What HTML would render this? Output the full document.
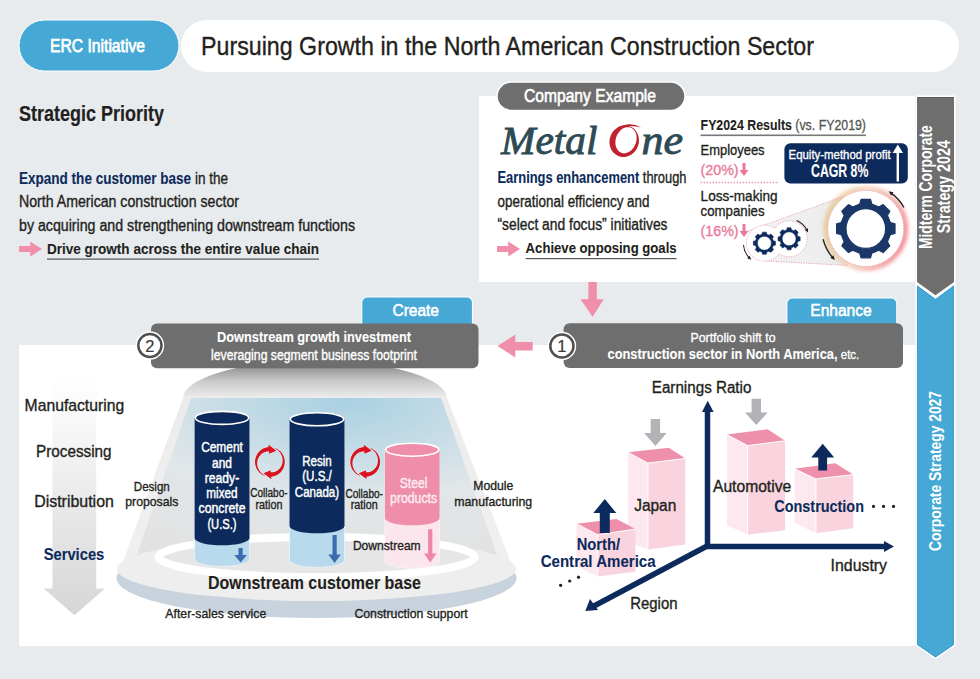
<!DOCTYPE html>
<html><head><meta charset="utf-8"><style>
html,body{margin:0;padding:0;background:#e8ebee;}
svg{display:block;font-family:"Liberation Sans", sans-serif;}
</style></head><body>
<svg width="980" height="679" viewBox="0 0 980 679">
<rect x="0" y="0" width="980" height="679" fill="#e8ebee"/>
<rect x="181" y="20" width="778" height="52" rx="26" fill="#fff"/>
<rect x="19" y="20" width="160" height="51" rx="25.5" fill="#45a8d5" stroke="#fff" stroke-width="1"/>
<text x="50" y="52" font-size="18.5" font-weight="normal" fill="#fff" text-anchor="start" textLength="95" lengthAdjust="spacingAndGlyphs" stroke="#fff" stroke-width="0.75">ERC Initiative</text>
<text x="201" y="54.6" font-size="25" font-weight="normal" fill="#231f20" text-anchor="start" textLength="613" lengthAdjust="spacingAndGlyphs" stroke="#231f20" stroke-width="0.35">Pursuing Growth in the North American Construction Sector</text>
<text x="19" y="121.3" font-size="22.3" font-weight="bold" fill="#231f20" text-anchor="start" textLength="145" lengthAdjust="spacingAndGlyphs" stroke="#231f20" stroke-width="0.2">Strategic Priority</text>
<text x="19" y="184.0" font-size="15.6" fill="#231f20" stroke="#231f20" stroke-width="0.35" textLength="209" lengthAdjust="spacingAndGlyphs"><tspan font-weight="bold" fill="#0c2a5b" stroke="#0c2a5b" stroke-width="0.1">Expand the customer base</tspan> in the</text>
<text x="19" y="207.2" font-size="15.6" font-weight="normal" fill="#231f20" text-anchor="start" textLength="220" lengthAdjust="spacingAndGlyphs" stroke="#231f20" stroke-width="0.35">North American construction sector</text>
<text x="19" y="230.6" font-size="15.6" font-weight="normal" fill="#231f20" text-anchor="start" textLength="336" lengthAdjust="spacingAndGlyphs" stroke="#231f20" stroke-width="0.35">by acquiring and strengthening downstream functions</text>
<path d="M19,245.9 L30.2,245.9 L30.2,241.4 L42,249 L30.2,256.6 L30.2,252.1 L19,252.1 Z" fill="#ef8fab"/>
<text x="47" y="253.6" font-size="15.3" font-weight="bold" fill="#231f20" text-anchor="start" textLength="272" lengthAdjust="spacingAndGlyphs" stroke="#231f20" stroke-width="0.1">Drive growth across the entire value chain</text>
<rect x="47" y="258.5" width="272" height="1.2" fill="#555"/>
<rect x="479" y="96" width="436" height="186" fill="#fff"/>
<rect x="497" y="82" width="188" height="28.5" rx="14.25" fill="#6e6e6e" stroke="#fff" stroke-width="1.5"/>
<text x="524" y="102.2" font-size="18" font-weight="normal" fill="#fff" text-anchor="start" textLength="132" lengthAdjust="spacingAndGlyphs" stroke="#fff" stroke-width="0.6">Company Example</text>
<text x="501" y="154" font-family="Liberation Serif" font-style="italic" font-size="41" fill="#2e4a54" stroke="#2e4a54" stroke-width="0.9" textLength="96.5" lengthAdjust="spacingAndGlyphs">Metal</text>
<text x="641.5" y="154" font-family="Liberation Serif" font-style="italic" font-size="41" fill="#2e4a54" stroke="#2e4a54" stroke-width="0.9" textLength="41.5" lengthAdjust="spacingAndGlyphs">ne</text>
<path d="M637.92,146.19 L637.09,148.10 L636.04,149.89 L634.79,151.53 L633.36,153.00 L631.77,154.26 L630.06,155.30 L628.24,156.09 L626.35,156.64 L624.43,156.91 L622.50,156.92 L620.60,156.67 L618.76,156.14 L617.02,155.36 L615.40,154.34 L613.93,153.09 L612.63,151.64 L611.53,150.01 L610.65,148.23 L610.01,146.33 L609.60,144.35 L609.44,142.30 L609.54,140.24 L609.89,138.20 L610.48,136.21 L611.31,134.30 L612.36,132.51 L613.61,130.87 L615.04,129.40 L616.63,128.14 L618.34,127.10 L620.16,126.31 L622.05,125.76 L623.97,125.49 L625.90,125.48 L627.80,125.73 L629.64,126.26 L631.38,127.04 L633.00,128.06 L634.47,129.31 L635.77,130.76 L636.87,132.39 L637.75,134.17 L638.39,136.07 L638.80,138.05 L638.96,140.10 L638.86,142.16 L638.51,144.20 Z M635.58,143.69 L636.10,142.02 L636.44,140.31 L636.61,138.60 L636.59,136.93 L636.39,135.30 L636.02,133.76 L635.47,132.33 L634.76,131.04 L633.90,129.90 L632.91,128.94 L631.79,128.17 L630.58,127.61 L629.29,127.26 L627.95,127.13 L626.57,127.23 L625.18,127.55 L623.80,128.09 L622.46,128.83 L621.19,129.77 L619.99,130.88 L618.90,132.16 L617.93,133.57 L617.10,135.10 L616.42,136.71 L615.90,138.38 L615.56,140.09 L615.39,141.80 L615.41,143.47 L615.61,145.10 L615.98,146.64 L616.53,148.07 L617.24,149.36 L618.10,150.50 L619.09,151.46 L620.21,152.23 L621.42,152.79 L622.71,153.14 L624.05,153.27 L625.43,153.17 L626.82,152.85 L628.20,152.31 L629.54,151.57 L630.81,150.63 L632.01,149.52 L633.10,148.24 L634.07,146.83 L634.90,145.30 Z" fill="#c0212f" fill-rule="evenodd"/>
<path d="M617,128 Q630,121 641,127.5 Q631,124.5 621,127.5 Z" fill="#c0212f"/>
<text x="497.5" y="183.4" font-size="15.6" fill="#231f20" stroke="#231f20" stroke-width="0.35" textLength="189" lengthAdjust="spacingAndGlyphs"><tspan font-weight="bold" fill="#0c2a5b" stroke="#0c2a5b" stroke-width="0.1">Earnings enhancement</tspan> through</text>
<text x="497.5" y="207.4" font-size="15.6" font-weight="normal" fill="#231f20" text-anchor="start" textLength="152" lengthAdjust="spacingAndGlyphs" stroke="#231f20" stroke-width="0.35">operational efficiency and</text>
<text x="497.5" y="230" font-size="15.6" font-weight="normal" fill="#231f20" text-anchor="start" textLength="170" lengthAdjust="spacingAndGlyphs" stroke="#231f20" stroke-width="0.35">“select and focus” initiatives</text>
<path d="M497,245.9 L508.2,245.9 L508.2,241.4 L520,249 L508.2,256.6 L508.2,252.1 L497,252.1 Z" fill="#ef8fab"/>
<text x="525.6" y="253.3" font-size="15.3" font-weight="bold" fill="#231f20" text-anchor="start" textLength="151" lengthAdjust="spacingAndGlyphs" stroke="#231f20" stroke-width="0.1">Achieve opposing goals</text>
<rect x="525.6" y="258" width="151" height="1.2" fill="#555"/>
<text x="700.6" y="130.4" font-size="14.3" fill="#231f20" stroke="#231f20" stroke-width="0.1" textLength="165.4" lengthAdjust="spacingAndGlyphs"><tspan font-weight="bold">FY2024 Results</tspan><tspan fill="#555" stroke="#555" stroke-width="0.3"> (vs. FY2019)</tspan></text>
<rect x="700.6" y="134.5" width="165.4" height="1.6" fill="#777"/>
<text x="700.6" y="155" font-size="15" font-weight="normal" fill="#231f20" text-anchor="start" textLength="64" lengthAdjust="spacingAndGlyphs" stroke="#231f20" stroke-width="0.35">Employees</text>
<text x="700.6" y="175.4" font-size="15" font-weight="normal" fill="#e9799b" text-anchor="start" textLength="38" lengthAdjust="spacingAndGlyphs" stroke="#e9799b" stroke-width="0.35">(20%)</text>
<path d="M742.5,163 L745.5,163 L745.5,170 L748.5,170 L744,176 L739.5,170 L742.5,170 Z" fill="#e9799b"/>
<line x1="700.6" y1="182.5" x2="779" y2="182.5" stroke="#ef8fab" stroke-width="1.3" stroke-dasharray="1.3 1.7"/>
<rect x="784.4" y="143.3" width="123.4" height="40.3" rx="6" fill="#0c2a5b"/>
<text x="788.6" y="158.5" font-size="13" font-weight="normal" fill="#fff" text-anchor="start" textLength="102" lengthAdjust="spacingAndGlyphs" stroke="#fff" stroke-width="0.35">Equity-method profit</text>
<text x="811" y="176.8" font-size="17.5" font-weight="bold" fill="#fff" text-anchor="start" textLength="57.4" lengthAdjust="spacingAndGlyphs" stroke="#fff" stroke-width="0.1">CAGR 8%</text>
<path d="M896.6,181.5 L899,181.5 L899,153 L903,153 L897.8,144.5 L892.6,153 L896.6,153 Z" fill="#fff"/>
<text x="700.6" y="201.4" font-size="15" font-weight="normal" fill="#231f20" text-anchor="start" textLength="77" lengthAdjust="spacingAndGlyphs" stroke="#231f20" stroke-width="0.35">Loss-making</text>
<text x="700.6" y="215.8" font-size="15" font-weight="normal" fill="#231f20" text-anchor="start" textLength="64" lengthAdjust="spacingAndGlyphs" stroke="#231f20" stroke-width="0.35">companies</text>
<text x="700.6" y="236.3" font-size="15" font-weight="normal" fill="#e9799b" text-anchor="start" textLength="38" lengthAdjust="spacingAndGlyphs" stroke="#e9799b" stroke-width="0.35">(16%)</text>
<path d="M742.5,224 L745.5,224 L745.5,231 L748.5,231 L744,237 L739.5,231 L742.5,231 Z" fill="#e9799b"/>
<defs><linearGradient id="glowg" x1="0" y1="0.3" x2="1" y2="0.6"><stop offset="0" stop-color="#e2c27a"/><stop offset="0.45" stop-color="#f0c8b0"/><stop offset="1" stop-color="#ef6f7a"/></linearGradient><filter id="blur2" x="-30%" y="-30%" width="160%" height="160%"><feGaussianBlur stdDeviation="2.2"/></filter><linearGradient id="funnel" x1="0" y1="0" x2="1" y2="0"><stop offset="0" stop-color="#f4f4f4"/><stop offset="1" stop-color="#ebebeb"/></linearGradient></defs>
<path d="M748,231 L843,196.5 L848,265.5 L766,261 Z" fill="url(#funnel)"/>
<circle cx="865.8" cy="228.5" r="39.5" fill="none" stroke="url(#glowg)" stroke-width="5" filter="url(#blur2)" opacity="0.9"/>
<circle cx="865.8" cy="228.5" r="38" fill="#fff" stroke="#ef8fab" stroke-width="1" stroke-dasharray="1 1.5"/>
<line x1="748" y1="231" x2="843" y2="196.5" stroke="#ef8fab" stroke-width="1" stroke-dasharray="1 1.5"/>
<line x1="766" y1="261" x2="848" y2="265.5" stroke="#ef8fab" stroke-width="1" stroke-dasharray="1 1.5"/>
<circle cx="764.4" cy="243.2" r="18" fill="#fff" stroke="#ef8fab" stroke-width="1" stroke-dasharray="1 1.5"/>
<circle cx="789.1" cy="238.8" r="18" fill="#fff" stroke="#ef8fab" stroke-width="1" stroke-dasharray="1 1.5"/>
<circle cx="764.4" cy="243.2" r="17" fill="#fff"/>
<circle cx="789.1" cy="238.8" r="17" fill="#fff"/>
<path d="M859.79,204.03 L861.08,199.38 L870.52,199.38 L871.81,204.03 L878.92,206.97 L883.13,204.60 L889.80,211.27 L887.43,215.48 L890.37,222.59 L895.02,223.88 L895.02,233.32 L890.37,234.61 L887.43,241.72 L889.80,245.93 L883.13,252.60 L878.92,250.23 L871.81,253.17 L870.52,257.82 L861.08,257.82 L859.79,253.17 L852.68,250.23 L848.47,252.60 L841.80,245.93 L844.17,241.72 L841.23,234.61 L836.58,233.32 L836.58,223.88 L841.23,222.59 L844.17,215.48 L841.80,211.27 L848.47,204.60 L852.68,206.97 Z M885.60,228.60 A19.8,19.8 0 1,0 846.00,228.60 A19.8,19.8 0 1,0 885.60,228.60 Z" fill="#1a3767" stroke="#1a3767" stroke-width="1.2" stroke-linejoin="round" fill-rule="evenodd"/>
<path d="M762.03,234.31 L762.51,232.16 L766.29,232.16 L766.77,234.31 L769.01,235.24 L770.87,234.05 L773.55,236.73 L772.36,238.59 L773.29,240.83 L775.44,241.31 L775.44,245.09 L773.29,245.57 L772.36,247.81 L773.55,249.67 L770.87,252.35 L769.01,251.16 L766.77,252.09 L766.29,254.24 L762.51,254.24 L762.03,252.09 L759.79,251.16 L757.93,252.35 L755.25,249.67 L756.44,247.81 L755.51,245.57 L753.36,245.09 L753.36,241.31 L755.51,240.83 L756.44,238.59 L755.25,236.73 L757.93,234.05 L759.79,235.24 Z M771.40,243.20 A7.0,7.0 0 1,0 757.40,243.20 A7.0,7.0 0 1,0 771.40,243.20 Z" fill="#0c2a5b" stroke="#0c2a5b" stroke-width="0.6" stroke-linejoin="round" fill-rule="evenodd"/>
<path d="M786.73,229.91 L787.21,227.76 L790.99,227.76 L791.47,229.91 L793.71,230.84 L795.57,229.65 L798.25,232.33 L797.06,234.19 L797.99,236.43 L800.14,236.91 L800.14,240.69 L797.99,241.17 L797.06,243.41 L798.25,245.27 L795.57,247.95 L793.71,246.76 L791.47,247.69 L790.99,249.84 L787.21,249.84 L786.73,247.69 L784.49,246.76 L782.63,247.95 L779.95,245.27 L781.14,243.41 L780.21,241.17 L778.06,240.69 L778.06,236.91 L780.21,236.43 L781.14,234.19 L779.95,232.33 L782.63,229.65 L784.49,230.84 Z M796.10,238.80 A7.0,7.0 0 1,0 782.10,238.80 A7.0,7.0 0 1,0 796.10,238.80 Z" fill="#0c2a5b" stroke="#0c2a5b" stroke-width="0.6" stroke-linejoin="round" fill-rule="evenodd"/>
<path d="M903.93,207.46 A43.6,43.6 0 0,0 890.81,192.88" fill="none" stroke="#231f20" stroke-width="1.3"/><path d="M888.60,191.34 L893.43,192.28 L891.14,195.56 Z" fill="#231f20"/>
<path d="M823.11,239.24 A44,44 0 0,0 833.10,258.04" fill="none" stroke="#231f20" stroke-width="1.3"/><path d="M834.91,260.05 L830.41,258.04 L833.38,255.37 Z" fill="#231f20"/>
<path d="M796.52,220.44 A19.8,19.8 0 0,1 807.04,230.43" fill="none" stroke="#231f20" stroke-width="1.1"/><path d="M808.06,232.61 L808.00,228.22 L804.74,229.74 Z" fill="#231f20"/>
<path d="M743.48,245.03 A21,21 0 0,0 749.55,258.05" fill="none" stroke="#231f20" stroke-width="1.1"/><path d="M751.25,259.75 L747.15,258.19 L749.69,255.65 Z" fill="#231f20"/>
<path d="M917,97 L954,97 L954,282 L935.5,295.3 L917,282 Z" fill="#6e6e6e" stroke="#fff" stroke-width="3" paint-order="stroke"/><path d="M917.5,97.5 L953.5,97.5" stroke="#5a5a5a" stroke-width="1"/>
<path d="M917,285.3 L935.5,298.9 L954,285.3 L954,644.8 L935.5,657.6 L917,644.8 Z" fill="#45a8d5" stroke="#fff" stroke-width="3" paint-order="stroke"/><path d="M917.6,286.5 L935.5,299.6 L953.4,286.5 L953.4,644.5 L935.5,656.8 L917.6,644.5 Z" fill="none" stroke="#3a9dd0" stroke-width="1"/>
<text transform="translate(932,249) rotate(-90)" font-size="17.5" font-weight="bold" fill="#fff" textLength="123.7" lengthAdjust="spacingAndGlyphs">Midterm Corporate</text>
<text transform="translate(950,233.2) rotate(-90)" font-size="17.5" font-weight="bold" fill="#fff" textLength="93" lengthAdjust="spacingAndGlyphs">Strategy 2024</text>
<text transform="translate(940.9,551) rotate(-90)" font-size="16.8" font-weight="bold" fill="#fff" textLength="160" lengthAdjust="spacingAndGlyphs">Corporate Strategy 2027</text>
<rect x="19" y="345" width="896" height="301" fill="#fff"/>
<path d="M588.4,282 L596.8,282 L596.8,299.3 L603.7,299.3 L592.6,317 L580.6,299.3 L588.4,299.3 Z" fill="#ef8fab"/>
<path d="M532.7,342 L515.3,342 L515.3,334.6 L497.4,346.1 L515.3,357.5 L515.3,350.4 L532.7,350.4 Z" fill="#ef8fab"/>
<defs><linearGradient id="dome" x1="0" y1="0.15" x2="0" y2="1"><stop offset="0" stop-color="#8f8f8f"/><stop offset="0.45" stop-color="#c9c9c9"/><stop offset="1" stop-color="#eeeeee"/></linearGradient><linearGradient id="cone" x1="0" y1="0" x2="0" y2="1"><stop offset="0" stop-color="#ececec"/><stop offset="1" stop-color="#f0f0f0"/></linearGradient><radialGradient id="blue" cx="0.58" cy="0" r="1.0" gradientTransform="translate(0.58 0) scale(1 1.0) translate(-0.58 0)"><stop offset="0" stop-color="#a9d0e2"/><stop offset="0.3" stop-color="#c3dbe6"/><stop offset="0.6" stop-color="#e1e6e9"/><stop offset="1" stop-color="#e2e2e2"/></radialGradient></defs>
<path d="M183,398 L447,398 L517,578 L117,578 Z" fill="url(#cone)"/>
<path d="M183,398.5 A132,38 0 0,1 447,398.5 Z" fill="url(#dome)"/>
<path d="M191,398 L441,398 L501,566 L133,566 Z" fill="url(#blue)"/>
<ellipse cx="316.5" cy="578" rx="200" ry="40" fill="#c9d3de"/>
<ellipse cx="316.5" cy="569" rx="199.5" ry="32" fill="#eeeeee"/>
<ellipse cx="316.5" cy="557" rx="158" ry="20" fill="#e6e6e6" stroke="#fff" stroke-width="8"/>
<rect x="362.3" y="297.5" width="109.6" height="40" rx="5" fill="#45a8d5" stroke="#fff" stroke-width="2" paint-order="stroke"/>
<text x="415.7" y="316.4" font-size="17.3" font-weight="normal" fill="#fff" text-anchor="middle" textLength="46.4" lengthAdjust="spacingAndGlyphs" stroke="#fff" stroke-width="0.6">Create</text>
<rect x="787.4" y="298.5" width="108.8" height="40" rx="5" fill="#45a8d5" stroke="#fff" stroke-width="2" paint-order="stroke"/>
<text x="841" y="316.4" font-size="17.3" font-weight="normal" fill="#fff" text-anchor="middle" textLength="61.4" lengthAdjust="spacingAndGlyphs" stroke="#fff" stroke-width="0.6">Enhance</text>
<rect x="151" y="323.4" width="327.5" height="44.8" rx="6" fill="#6e6e6e"/>
<rect x="563.6" y="323.3" width="339.4" height="44.8" rx="6" fill="#6e6e6e"/>
<circle cx="149.9" cy="345.5" r="14.3" fill="#fff"/><circle cx="149.9" cy="345.5" r="11.6" fill="#fff" stroke="#505050" stroke-width="2.5"/><text x="149.9" y="351.5" font-size="16.5" font-weight="normal" fill="#3a3a3a" text-anchor="middle" stroke="#3a3a3a" stroke-width="0.2">2</text>
<circle cx="561.9" cy="346" r="14.3" fill="#fff"/><circle cx="561.9" cy="346" r="11.6" fill="#fff" stroke="#505050" stroke-width="2.5"/><text x="561.9" y="352" font-size="16.5" font-weight="normal" fill="#3a3a3a" text-anchor="middle" stroke="#3a3a3a" stroke-width="0.2">1</text>
<text x="314" y="342" font-size="14.5" font-weight="bold" fill="#fff" text-anchor="middle" textLength="194" lengthAdjust="spacingAndGlyphs" stroke="#fff" stroke-width="0.1">Downstream growth investment</text>
<text x="314" y="360.4" font-size="14" font-weight="normal" fill="#fff" text-anchor="middle" textLength="206" lengthAdjust="spacingAndGlyphs" stroke="#fff" stroke-width="0.35">leveraging segment business footprint</text>
<text x="733" y="341.5" font-size="13.5" font-weight="normal" fill="#fff" text-anchor="middle" textLength="85" lengthAdjust="spacingAndGlyphs" stroke="#fff" stroke-width="0.35">Portfolio shift to</text>
<text x="607.5" y="358.6" font-size="14.5" fill="#fff" stroke="#fff" stroke-width="0.1" textLength="251.8" lengthAdjust="spacingAndGlyphs"><tspan font-weight="bold">construction sector in North America,</tspan><tspan font-size="13" stroke-width="0.3"> etc.</tspan></text>
<defs><linearGradient id="garrow" x1="0" y1="0" x2="0" y2="1"><stop offset="0" stop-color="#fff"/><stop offset="1" stop-color="#d6d6d6"/></linearGradient></defs>
<path d="M52.5,378 L96.2,378 L96.2,588.4 L105,588.4 L74.4,615.2 L43.7,588.4 L52.5,588.4 Z" fill="url(#garrow)"/>
<text x="24.6" y="411.4" font-size="17" font-weight="normal" fill="#231f20" text-anchor="start" textLength="99.6" lengthAdjust="spacingAndGlyphs" stroke="#231f20" stroke-width="0.35">Manufacturing</text>
<text x="36" y="457.4" font-size="17" font-weight="normal" fill="#231f20" text-anchor="start" textLength="75.6" lengthAdjust="spacingAndGlyphs" stroke="#231f20" stroke-width="0.35">Processing</text>
<text x="34.2" y="507.2" font-size="17" font-weight="normal" fill="#231f20" text-anchor="start" textLength="79.7" lengthAdjust="spacingAndGlyphs" stroke="#231f20" stroke-width="0.35">Distribution</text>
<text x="43.7" y="559.6" font-size="17" font-weight="bold" fill="#0c2a5b" text-anchor="start" textLength="60.6" lengthAdjust="spacingAndGlyphs" stroke="#0c2a5b" stroke-width="0.1">Services</text>
<path d="M194.6,417.90000000000003 L194.6,559 A27.450000000000003,7.3 0 0,0 249.5,559 L249.5,417.90000000000003 Z" fill="#b9d9ec" stroke="#fff" stroke-width="1" stroke-dasharray="1 1"/><path d="M194.6,417.90000000000003 L194.6,538 A27.450000000000003,7.3 0 0,0 249.5,538 L249.5,417.90000000000003 Z" fill="#0c2a5b"/><ellipse cx="222.05" cy="417.90000000000003" rx="26.650000000000002" ry="6.5" fill="#0c2a5b" stroke="#fff" stroke-width="1.6"/>
<path d="M289.5,419.3 L289.5,560 A27.5,7.3 0 0,0 344.5,560 L344.5,419.3 Z" fill="#b9d9ec" stroke="#fff" stroke-width="1" stroke-dasharray="1 1"/><path d="M289.5,419.3 L289.5,526 A27.5,7.3 0 0,0 344.5,526 L344.5,419.3 Z" fill="#0c2a5b"/><ellipse cx="317.0" cy="419.3" rx="26.7" ry="6.5" fill="#0c2a5b" stroke="#fff" stroke-width="1.6"/>
<path d="M384.9,449.7 L384.9,561 A27.350000000000023,7.3 0 0,0 439.6,561 L439.6,449.7 Z" fill="#fbe6ed" stroke="#fff" stroke-width="1" stroke-dasharray="1 1"/><path d="M384.9,449.7 L384.9,518 A27.350000000000023,7.3 0 0,0 439.6,518 L439.6,449.7 Z" fill="#ee8eaa"/><ellipse cx="412.25" cy="449.7" rx="26.550000000000022" ry="6.5" fill="#ee8eaa" stroke="#fff" stroke-width="1.6"/>
<text x="222" y="451.7" font-size="13.8" font-weight="normal" fill="#fff" text-anchor="middle" textLength="41.7" lengthAdjust="spacingAndGlyphs" stroke="#fff" stroke-width="0.45">Cement</text>
<text x="222" y="467.6" font-size="13.8" font-weight="normal" fill="#fff" text-anchor="middle" textLength="19.9" lengthAdjust="spacingAndGlyphs" stroke="#fff" stroke-width="0.45">and</text>
<text x="222" y="482.5" font-size="13.8" font-weight="normal" fill="#fff" text-anchor="middle" textLength="34.5" lengthAdjust="spacingAndGlyphs" stroke="#fff" stroke-width="0.45">ready-</text>
<text x="222" y="498" font-size="13.8" font-weight="normal" fill="#fff" text-anchor="middle" textLength="31.3" lengthAdjust="spacingAndGlyphs" stroke="#fff" stroke-width="0.45">mixed</text>
<text x="222" y="512.7" font-size="13.8" font-weight="normal" fill="#fff" text-anchor="middle" textLength="47" lengthAdjust="spacingAndGlyphs" stroke="#fff" stroke-width="0.45">concrete</text>
<text x="222" y="528.6" font-size="13.8" font-weight="normal" fill="#fff" text-anchor="middle" textLength="29.2" lengthAdjust="spacingAndGlyphs" stroke="#fff" stroke-width="0.45">(U.S.)</text>
<text x="317" y="465.8" font-size="13.8" font-weight="normal" fill="#fff" text-anchor="middle" textLength="29.5" lengthAdjust="spacingAndGlyphs" stroke="#fff" stroke-width="0.45">Resin</text>
<text x="317" y="480.9" font-size="13.8" font-weight="normal" fill="#fff" text-anchor="middle" textLength="29.5" lengthAdjust="spacingAndGlyphs" stroke="#fff" stroke-width="0.45">(U.S./</text>
<text x="317" y="496.8" font-size="13.8" font-weight="normal" fill="#fff" text-anchor="middle" textLength="44.3" lengthAdjust="spacingAndGlyphs" stroke="#fff" stroke-width="0.45">Canada)</text>
<text x="413.6" y="488.3" font-size="14" font-weight="normal" fill="#fde9f0" text-anchor="middle" textLength="27.6" lengthAdjust="spacingAndGlyphs" stroke="#fde9f0" stroke-width="0.45">Steel</text>
<text x="413.6" y="502.5" font-size="14" font-weight="normal" fill="#fde9f0" text-anchor="middle" textLength="47.1" lengthAdjust="spacingAndGlyphs" stroke="#fde9f0" stroke-width="0.45">products</text>
<path d="M238.5,548 L242.7,548 L242.7,555.0 L246.85,555.0 L240.6,562.5 L234.35,555.0 L238.5,555.0 Z" fill="#3b6cad"/>
<path d="M332.5,535 L336.70000000000005,535 L336.70000000000005,554.6 L340.85,554.6 L334.6,563.1 L328.35,554.6 L332.5,554.6 Z" fill="#3b6cad"/>
<path d="M428.09999999999997,529.3 L432.3,529.3 L432.3,553.6 L436.45,553.6 L430.2,562.6 L423.95,553.6 L428.09999999999997,553.6 Z" fill="#ee87a5"/>
<path d="M264.80,475.90 L263.26,475.24 L261.80,474.41 L260.45,473.42 L259.21,472.28 L258.11,471.01 L257.16,469.63 L256.37,468.15 L255.76,466.59 L255.32,464.97 L255.07,463.31 L255.00,461.63 L255.13,459.96 L255.44,458.31 L255.94,456.70 L256.61,455.16 L257.45,453.71 L258.45,452.36 L259.60,451.14 L260.87,450.05 L262.26,449.11 L263.75,448.33 L265.32,447.72 L266.94,447.30 L268.60,447.06 L268.37,444.47 L276.40,450.64 L269.18,453.63 L268.98,451.44 L267.78,451.45 L266.57,451.60 L265.37,451.89 L264.19,452.33 L263.05,452.90 L261.96,453.61 L260.96,454.45 L260.04,455.42 L259.23,456.49 L258.54,457.67 L257.98,458.94 L257.56,460.27 L257.29,461.67 L257.18,463.11 L257.24,464.56 L257.46,466.02 L257.86,467.46 L258.42,468.86 L259.15,470.21 L260.04,471.48 L261.07,472.65 L262.25,473.72 L263.56,474.65 L264.97,475.43 Z" fill="#d7141f" stroke="#eefbfc" stroke-width="0.8" paint-order="stroke"/><path d="M275.00,447.90 L276.54,448.56 L278.00,449.39 L279.35,450.38 L280.59,451.52 L281.69,452.79 L282.64,454.17 L283.43,455.65 L284.04,457.21 L284.48,458.83 L284.73,460.49 L284.80,462.17 L284.67,463.84 L284.36,465.49 L283.86,467.10 L283.19,468.64 L282.35,470.09 L281.35,471.44 L280.20,472.66 L278.93,473.75 L277.54,474.69 L276.05,475.47 L274.48,476.08 L272.86,476.50 L271.20,476.74 L271.43,479.33 L263.40,473.16 L270.62,470.17 L270.82,472.36 L272.02,472.35 L273.23,472.20 L274.43,471.91 L275.61,471.47 L276.75,470.90 L277.84,470.19 L278.84,469.35 L279.76,468.38 L280.57,467.31 L281.26,466.13 L281.82,464.86 L282.24,463.53 L282.51,462.13 L282.62,460.69 L282.56,459.24 L282.34,457.78 L281.94,456.34 L281.38,454.94 L280.65,453.59 L279.76,452.32 L278.73,451.15 L277.55,450.08 L276.24,449.15 L274.83,448.37 Z" fill="#d7141f" stroke="#eefbfc" stroke-width="0.8" paint-order="stroke"/>
<path d="M360.10,475.90 L358.56,475.24 L357.10,474.41 L355.75,473.42 L354.51,472.28 L353.41,471.01 L352.46,469.63 L351.67,468.15 L351.06,466.59 L350.62,464.97 L350.37,463.31 L350.30,461.63 L350.43,459.96 L350.74,458.31 L351.24,456.70 L351.91,455.16 L352.75,453.71 L353.75,452.36 L354.90,451.14 L356.17,450.05 L357.56,449.11 L359.05,448.33 L360.62,447.72 L362.24,447.30 L363.90,447.06 L363.67,444.47 L371.70,450.64 L364.48,453.63 L364.28,451.44 L363.08,451.45 L361.87,451.60 L360.67,451.89 L359.49,452.33 L358.35,452.90 L357.26,453.61 L356.26,454.45 L355.34,455.42 L354.53,456.49 L353.84,457.67 L353.28,458.94 L352.86,460.27 L352.59,461.67 L352.48,463.11 L352.54,464.56 L352.76,466.02 L353.16,467.46 L353.72,468.86 L354.45,470.21 L355.34,471.48 L356.37,472.65 L357.55,473.72 L358.86,474.65 L360.27,475.43 Z" fill="#d7141f" stroke="#eefbfc" stroke-width="0.8" paint-order="stroke"/><path d="M370.30,447.90 L371.84,448.56 L373.30,449.39 L374.65,450.38 L375.89,451.52 L376.99,452.79 L377.94,454.17 L378.73,455.65 L379.34,457.21 L379.78,458.83 L380.03,460.49 L380.10,462.17 L379.97,463.84 L379.66,465.49 L379.16,467.10 L378.49,468.64 L377.65,470.09 L376.65,471.44 L375.50,472.66 L374.23,473.75 L372.84,474.69 L371.35,475.47 L369.78,476.08 L368.16,476.50 L366.50,476.74 L366.73,479.33 L358.70,473.16 L365.92,470.17 L366.12,472.36 L367.32,472.35 L368.53,472.20 L369.73,471.91 L370.91,471.47 L372.05,470.90 L373.14,470.19 L374.14,469.35 L375.06,468.38 L375.87,467.31 L376.56,466.13 L377.12,464.86 L377.54,463.53 L377.81,462.13 L377.92,460.69 L377.86,459.24 L377.64,457.78 L377.24,456.34 L376.68,454.94 L375.95,453.59 L375.06,452.32 L374.03,451.15 L372.85,450.08 L371.54,449.15 L370.13,448.37 Z" fill="#d7141f" stroke="#eefbfc" stroke-width="0.8" paint-order="stroke"/>
<text x="268.9" y="496.8" font-size="12" font-weight="normal" fill="#231f20" text-anchor="middle" textLength="37.5" lengthAdjust="spacingAndGlyphs" stroke="#231f20" stroke-width="0.35">Collabo-</text>
<text x="268.9" y="508.8" font-size="12" font-weight="normal" fill="#231f20" text-anchor="middle" textLength="27" lengthAdjust="spacingAndGlyphs" stroke="#231f20" stroke-width="0.35">ration</text>
<text x="364.2" y="497.8" font-size="12" font-weight="normal" fill="#231f20" text-anchor="middle" textLength="37.5" lengthAdjust="spacingAndGlyphs" stroke="#231f20" stroke-width="0.35">Collabo-</text>
<text x="364.2" y="509" font-size="12" font-weight="normal" fill="#231f20" text-anchor="middle" textLength="27" lengthAdjust="spacingAndGlyphs" stroke="#231f20" stroke-width="0.35">ration</text>
<text x="151.8" y="490.7" font-size="13" font-weight="normal" fill="#231f20" text-anchor="middle" textLength="36" lengthAdjust="spacingAndGlyphs" stroke="#231f20" stroke-width="0.35">Design</text>
<text x="151.8" y="506" font-size="13" font-weight="normal" fill="#231f20" text-anchor="middle" textLength="53" lengthAdjust="spacingAndGlyphs" stroke="#231f20" stroke-width="0.35">proposals</text>
<text x="493.3" y="490.2" font-size="13" font-weight="normal" fill="#231f20" text-anchor="middle" textLength="40" lengthAdjust="spacingAndGlyphs" stroke="#231f20" stroke-width="0.35">Module</text>
<text x="454.2" y="506" font-size="13" font-weight="normal" fill="#231f20" text-anchor="start" textLength="78" lengthAdjust="spacingAndGlyphs" stroke="#231f20" stroke-width="0.35">manufacturing</text>
<text x="352.9" y="549.6" font-size="13.5" font-weight="normal" fill="#231f20" text-anchor="start" textLength="67.8" lengthAdjust="spacingAndGlyphs" stroke="#231f20" stroke-width="0.35">Downstream</text>
<text x="208" y="589.2" font-size="18.5" font-weight="bold" fill="#231f20" text-anchor="start" textLength="213" lengthAdjust="spacingAndGlyphs" stroke="#231f20" stroke-width="0.1">Downstream customer base</text>
<text x="165.3" y="618" font-size="13.5" font-weight="normal" fill="#231f20" text-anchor="start" textLength="101" lengthAdjust="spacingAndGlyphs" stroke="#231f20" stroke-width="0.35">After-sales service</text>
<text x="354.4" y="617.5" font-size="13.5" font-weight="normal" fill="#231f20" text-anchor="start" textLength="113.4" lengthAdjust="spacingAndGlyphs" stroke="#231f20" stroke-width="0.35">Construction support</text>
<path d="M627.9,452.3 L647.9,463.1 L647.9,549.4 L627.9,541.7 Z" fill="#fde8ef"/><path d="M647.9,463.1 L685.4,458.4 L685.4,544.6 L647.9,549.4 Z" fill="#f9d4df"/><path d="M627.9,452.3 L668.9,447.8 L685.4,458.4 L647.9,463.1 Z" fill="#ee8fab"/><path d="M627.9,452.3 L647.9,463.1 L685.4,458.4 M647.9,463.1 L647.9,549.4" fill="none" stroke="#fff" stroke-width="1"/>
<path d="M576.5,523.7 L597.7,534.8 L597.7,576.6 L576.5,566 Z" fill="#fde8ef"/><path d="M597.7,534.8 L635.4,529.1 L635.4,571.7 L597.7,576.6 Z" fill="#f9d4df"/><path d="M576.5,523.7 L616.5,519 L635.4,529.1 L597.7,534.8 Z" fill="#ee8fab"/><path d="M576.5,523.7 L597.7,534.8 L635.4,529.1 M597.7,534.8 L597.7,576.6" fill="none" stroke="#fff" stroke-width="1"/>
<path d="M727,434.6 L747.6,445.6 L747.6,534.7 L727,525.2 Z" fill="#fde8ef"/><path d="M747.6,445.6 L785.1,440.8 L785.1,530.2 L747.6,534.7 Z" fill="#f9d4df"/><path d="M727,434.6 L767.6,429.3 L785.1,440.8 L747.6,445.6 Z" fill="#ee8fab"/><path d="M727,434.6 L747.6,445.6 L785.1,440.8 M747.6,445.6 L747.6,534.7" fill="none" stroke="#fff" stroke-width="1"/>
<path d="M794.6,468.8 L815.9,478.9 L815.9,533.2 L794.6,522.7 Z" fill="#fde8ef"/><path d="M815.9,478.9 L853.2,474.6 L853.2,528.2 L815.9,533.2 Z" fill="#f9d4df"/><path d="M794.6,468.8 L835.2,463.3 L853.2,474.6 L815.9,478.9 Z" fill="#ee8fab"/><path d="M794.6,468.8 L815.9,478.9 L853.2,474.6 M815.9,478.9 L815.9,533.2" fill="none" stroke="#fff" stroke-width="1"/>
<path d="M707.5,549 L707.5,410" stroke="#0c2a5b" stroke-width="5.5" fill="none"/>
<path d="M702,412 L707.7,400.8 L713.6,412 Z" fill="#0c2a5b"/>
<path d="M705,546.4 L885,546.4" stroke="#0c2a5b" stroke-width="5.5" fill="none"/>
<path d="M884,541 L894,546.4 L884,552 Z" fill="#0c2a5b"/>
<path d="M709,545 L594,606" stroke="#0c2a5b" stroke-width="5.5" fill="none"/>
<path d="M590,599 L585.3,611 L598,610 Z" fill="#0c2a5b"/>
<path d="M650.6999999999999,418.9 L650.6999999999999,433 L644.15,433 L655.4,446 L666.65,433 L660.1,433 L660.1,418.9 Z" fill="#b1b3b6"/>
<path d="M751.5999999999999,398.8 L751.5999999999999,412.5 L745.0,412.5 L756.3,425 L767.5999999999999,412.5 L761.0,412.5 L761.0,398.8 Z" fill="#b1b3b6"/>
<path d="M599.8,533 L599.8,513.1 L593.3,513.1 L604.8,499 L616.3,513.1 L609.8,513.1 L609.8,533 Z" fill="#0c2a5b"/>
<path d="M818.3000000000001,470.6 L818.3000000000001,457.6 L811.2,457.6 L822.7,443.8 L834.2,457.6 L827.1,457.6 L827.1,470.6 Z" fill="#0c2a5b"/>
<text x="651.8" y="393" font-size="16" font-weight="normal" fill="#231f20" text-anchor="start" textLength="99.6" lengthAdjust="spacingAndGlyphs" stroke="#231f20" stroke-width="0.35">Earnings Ratio</text>
<text x="830.6" y="571.1" font-size="16" font-weight="normal" fill="#231f20" text-anchor="start" textLength="56.4" lengthAdjust="spacingAndGlyphs" stroke="#231f20" stroke-width="0.35">Industry</text>
<text x="630.3" y="609.4" font-size="16" font-weight="normal" fill="#231f20" text-anchor="start" textLength="47.2" lengthAdjust="spacingAndGlyphs" stroke="#231f20" stroke-width="0.35">Region</text>
<text x="634.2" y="511" font-size="16" font-weight="normal" fill="#231f20" text-anchor="start" textLength="42.1" lengthAdjust="spacingAndGlyphs" stroke="#231f20" stroke-width="0.35">Japan</text>
<text x="713" y="491.8" font-size="16" font-weight="normal" fill="#231f20" text-anchor="start" textLength="78.2" lengthAdjust="spacingAndGlyphs" stroke="#231f20" stroke-width="0.35">Automotive</text>
<text x="774.3" y="511.7" font-size="16.5" font-weight="bold" fill="#0c2a5b" text-anchor="start" textLength="89.7" lengthAdjust="spacingAndGlyphs" stroke="#0c2a5b" stroke-width="0.1">Construction</text>
<text x="576.7" y="550" font-size="16.5" font-weight="bold" fill="#0c2a5b" text-anchor="start" textLength="43.3" lengthAdjust="spacingAndGlyphs" stroke="#0c2a5b" stroke-width="0.1">North/</text>
<text x="540.7" y="567.2" font-size="16.5" font-weight="bold" fill="#0c2a5b" text-anchor="start" textLength="114.9" lengthAdjust="spacingAndGlyphs" stroke="#0c2a5b" stroke-width="0.1">Central America</text>
<circle cx="873.5" cy="506.4" r="1.6" fill="#231f20"/>
<circle cx="883.5" cy="506.4" r="1.6" fill="#231f20"/>
<circle cx="893.5" cy="506.4" r="1.6" fill="#231f20"/>
<circle cx="560.6" cy="585.3" r="1.6" fill="#231f20"/>
<circle cx="569.7" cy="581" r="1.6" fill="#231f20"/>
<circle cx="578.5" cy="577.2" r="1.6" fill="#231f20"/>
</svg></body></html>
